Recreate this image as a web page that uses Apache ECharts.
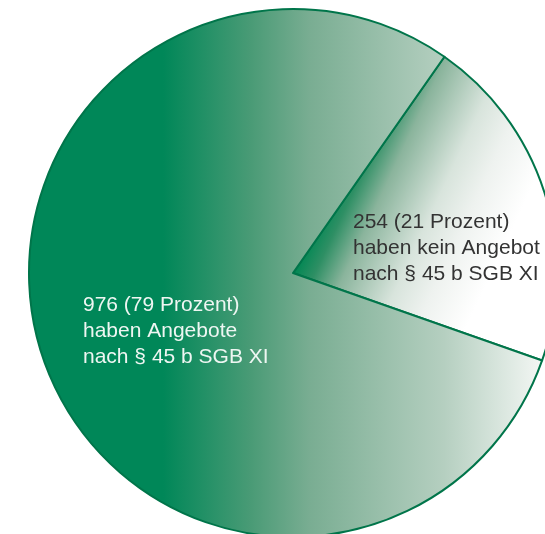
<!DOCTYPE html>
<html>
<head>
<meta charset="utf-8">
<script src="https://cdn.jsdelivr.net/npm/echarts@6/dist/echarts.min.js"></script>
<style>
  html, body { margin: 0; padding: 0; background: #fff; }
  #pie-chart { width: 545px; height: 534px; }
</style>
</head>
<body>
<div id="pie-chart"></div>
<script>
// Anzahl und Anteil der Einrichtungen
const counts = [254, 976];
const percents = [21, 79];
const labelLines = [
  "haben kein Angebot\nnach § 45 b SGB XI",
  "haben Angebote\nnach § 45 b SGB XI",
];

// Farbverläufe (globale Koordinaten)
const fillSmall = {
  type: "linear", global: true,
  x: 293, y: 273, x2: 474, y2: 358,
  colorStops: [
    { offset: 0, color: "#008753" },
    { offset: 0.1, color: "#2e8f64" },
    { offset: 0.235, color: "#8ab49c" },
    { offset: 0.5, color: "#d8e4dc" },
    { offset: 0.67, color: "#eef2ef" },
    { offset: 0.9, color: "#ffffff" },
  ],
};
const fillBig = {
  type: "linear", global: true,
  x: 163, y: 0, x2: 548, y2: 0,
  colorStops: [
    { offset: 0, color: "#008758" },
    { offset: 0.23, color: "#4a9b76" },
    { offset: 0.38, color: "#79ad92" },
    { offset: 0.73, color: "#b5cfc0" },
    { offset: 1, color: "#f7f9f7" },
  ],
};

// Labelpositionen (links oben)
const labelPos = [
  { x: 353, y: 209, color: "#333333" },
  { x: 83, y: 292, color: "#eef6f2" },
];

const chart = echarts.init(document.getElementById("pie-chart"));
chart.setOption({
  animation: false,
  series: [
    {
      type: "pie",
      center: [293, 273],
      radius: [0, 264],
      startAngle: 55,
      clockwise: true,
      silent: true,
      emphasis: { disabled: true },
      itemStyle: {
        borderColor: "#00754a",
        borderWidth: 2,
      },
      label: {
        show: true,
        position: "inside",
        fontFamily: "Liberation Sans",
        fontSize: 21,
        lineHeight: 26,
        align: "left",
        overflow: "none",
      },
      labelLine: { show: false },
      labelLayout: function (params) {
        const p = labelPos[params.dataIndex];
        return { x: p.x, y: p.y, align: "left", verticalAlign: "top" };
      },
      data: counts.map(function (v, i) {
        return {
          value: v,
          itemStyle: { color: i === 0 ? fillSmall : fillBig },
          label: {
            color: labelPos[i].color,
            formatter: v + " (" + percents[i] + " Prozent)\n" + labelLines[i],
          },
        };
      }),
    },
  ],
});
</script>
</body>
</html>
